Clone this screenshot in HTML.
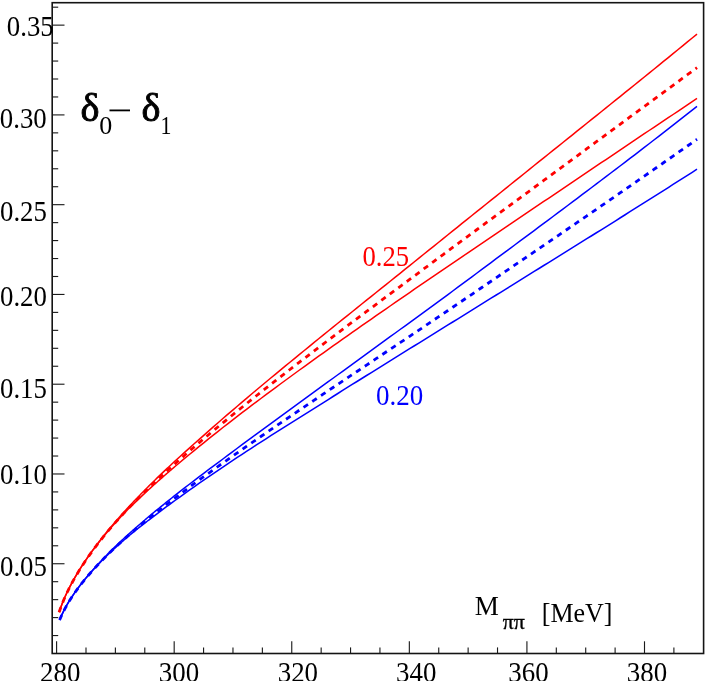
<!DOCTYPE html>
<html><head><meta charset="utf-8"><title>delta0 - delta1</title>
<style>
html,body{margin:0;padding:0;background:#fff;}
body{width:706px;height:681px;overflow:hidden;font-family:"Liberation Serif",serif;}
svg{display:block;will-change:transform;}
text{font-family:"Liberation Serif",serif;}
</style></head><body>
<svg width="706" height="681" viewBox="0 0 706 681">
<rect x="0" y="0" width="706" height="681" fill="#ffffff"/>
<g fill="none" stroke-linecap="butt" stroke-linejoin="round">
<path d="M59.10,612.30 L60.41,608.48 L61.72,604.95 L63.03,601.64 L64.34,598.52 L65.66,595.55 L66.97,592.72 L68.28,590.00 L69.59,587.38 L70.90,584.85 L72.21,582.40 L73.52,580.02 L74.83,577.71 L76.14,575.45 L77.44,573.25 L78.73,571.10 L80.02,569.00 L81.32,566.94 L82.61,564.92 L83.90,562.93 L85.20,560.98 L86.49,559.06 L87.79,557.17 L89.08,555.31 L90.37,553.48 L91.66,551.68 L92.94,549.89 L94.23,548.13 L95.51,546.40 L96.80,544.68 L98.08,542.98 L99.37,541.31 L100.65,539.65 L101.94,538.00 L103.22,536.38 L104.51,534.77 L105.79,533.17 L107.08,531.59 L108.36,530.02 L109.65,528.47 L110.94,526.93 L112.23,525.40 L113.53,523.89 L114.82,522.38 L116.11,520.89 L117.41,519.41 L118.70,517.94 L120.00,516.48 L121.29,515.02 L122.58,513.58 L123.88,512.15 L125.17,510.72 L126.48,509.30 L127.80,507.88 L129.11,506.46 L130.42,505.06 L131.73,503.66 L133.04,502.27 L134.35,500.89 L135.66,499.52 L136.97,498.15 L138.29,496.79 L139.60,495.43 L140.91,494.08 L142.22,492.74 L143.53,491.40 L144.84,490.07 L146.15,488.75 L147.46,487.43 L148.78,486.11 L150.09,484.80 L151.40,483.52 L152.71,482.23 L154.02,480.95 L155.33,479.68 L156.64,478.41 L157.95,477.15 L159.27,475.89 L160.58,474.63 L161.89,473.38 L163.20,472.13 L164.51,470.89 L165.82,469.65 L167.13,468.41 L168.44,467.18 L169.76,465.95 L171.07,464.73 L172.38,463.51 L173.69,462.29 L175.00,461.08 L179.79,456.70 L184.58,452.36 L189.37,448.07 L194.16,443.80 L198.94,439.57 L203.73,435.33 L208.52,431.09 L213.31,426.89 L218.10,422.71 L222.89,418.55 L227.68,414.42 L232.47,410.31 L237.26,406.21 L242.05,402.14 L246.83,398.08 L251.62,394.03 L256.41,390.01 L261.20,385.99 L265.99,382.00 L270.78,378.03 L275.57,374.06 L280.36,370.11 L285.15,366.16 L289.94,362.23 L294.72,358.30 L299.51,354.38 L304.30,350.47 L309.09,346.57 L313.88,342.67 L318.67,338.79 L323.46,334.90 L328.25,331.02 L333.04,327.15 L337.83,323.29 L342.61,319.42 L347.40,315.56 L352.19,311.71 L356.98,307.86 L361.77,304.01 L366.56,300.16 L371.35,296.32 L376.14,292.48 L380.93,288.64 L385.72,284.80 L390.50,280.97 L395.29,277.13 L400.08,273.30 L404.87,269.45 L409.66,265.59 L414.45,261.74 L419.24,257.88 L424.03,254.03 L428.82,250.18 L433.61,246.32 L438.39,242.47 L443.18,238.62 L447.97,234.76 L452.76,230.91 L457.55,227.05 L462.34,223.19 L467.13,219.35 L471.92,215.51 L476.71,211.67 L481.50,207.84 L486.28,204.00 L491.07,200.15 L495.86,196.31 L500.65,192.47 L505.44,188.62 L510.23,184.77 L515.02,180.92 L519.81,177.06 L524.60,173.21 L529.39,169.35 L534.17,165.49 L538.96,161.62 L543.75,157.79 L548.54,153.97 L553.33,150.14 L558.12,146.31 L562.91,142.48 L567.70,138.64 L572.49,134.80 L577.28,130.96 L582.06,127.12 L586.85,123.27 L591.64,119.42 L596.43,115.56 L601.22,111.71 L606.01,107.86 L610.80,104.01 L615.59,100.16 L620.38,96.30 L625.17,92.44 L629.95,88.58 L634.74,84.71 L639.53,80.84 L644.32,76.97 L649.11,73.09 L653.90,69.21 L658.69,65.33 L663.48,61.44 L668.27,57.55 L673.06,53.65 L677.84,49.76 L682.63,45.85 L687.42,41.95 L692.21,38.03 L697.00,34.12" stroke="#ff0000" stroke-width="1.5"/>
<path d="M59.10,612.04 L60.41,608.21 L61.72,604.68 L63.03,601.37 L64.34,598.25 L65.66,595.29 L66.97,592.46 L68.28,589.75 L69.59,587.14 L70.90,584.63 L72.21,582.20 L73.52,579.84 L74.83,577.54 L76.14,575.31 L77.44,573.13 L78.73,571.01 L80.02,568.93 L81.32,566.89 L82.61,564.90 L83.90,562.94 L85.20,561.02 L86.49,559.14 L87.79,557.28 L89.08,555.46 L90.37,553.66 L91.66,551.89 L92.94,550.15 L94.23,548.43 L95.51,546.73 L96.80,545.05 L98.08,543.40 L99.37,541.76 L100.65,540.15 L101.94,538.55 L103.22,536.97 L104.51,535.40 L105.79,533.85 L107.08,532.32 L108.36,530.80 L109.65,529.30 L110.94,527.81 L112.23,526.33 L113.53,524.87 L114.82,523.42 L116.11,521.98 L117.41,520.55 L118.70,519.13 L120.00,517.73 L121.29,516.33 L122.58,514.95 L123.88,513.57 L125.17,512.21 L126.48,510.89 L127.80,509.57 L129.11,508.26 L130.42,506.96 L131.73,505.67 L133.04,504.39 L134.35,503.12 L135.66,501.85 L136.97,500.59 L138.29,499.34 L139.60,498.09 L140.91,496.86 L142.22,495.62 L143.53,494.40 L144.84,493.18 L146.15,491.97 L147.46,490.76 L148.78,489.56 L150.09,488.37 L151.40,487.18 L152.71,485.99 L154.02,484.80 L155.33,483.63 L156.64,482.45 L157.95,481.29 L159.27,480.13 L160.58,478.97 L161.89,477.82 L163.20,476.67 L164.51,475.52 L165.82,474.39 L167.13,473.25 L168.44,472.12 L169.76,471.00 L171.07,469.87 L172.38,468.74 L173.69,467.62 L175.00,466.50 L179.79,462.45 L184.58,458.44 L189.37,454.48 L194.16,450.56 L198.94,446.68 L203.73,442.80 L208.52,438.93 L213.31,435.10 L218.10,431.30 L222.89,427.53 L227.68,423.79 L232.47,420.07 L237.26,416.38 L242.05,412.71 L246.83,409.07 L251.62,405.44 L256.41,401.84 L261.20,398.26 L265.99,394.68 L270.78,391.11 L275.57,387.56 L280.36,384.02 L285.15,380.50 L289.94,376.99 L294.72,373.49 L299.51,370.01 L304.30,366.54 L309.09,363.09 L313.88,359.64 L318.67,356.21 L323.46,352.78 L328.25,349.37 L333.04,345.96 L337.83,342.57 L342.61,339.19 L347.40,335.81 L352.19,332.44 L356.98,329.08 L361.77,325.73 L366.56,322.38 L371.35,319.04 L376.14,315.71 L380.93,312.39 L385.72,309.07 L390.50,305.75 L395.29,302.44 L400.08,299.14 L404.87,295.84 L409.66,292.54 L414.45,289.24 L419.24,285.95 L424.03,282.67 L428.82,279.39 L433.61,276.11 L438.39,272.84 L443.18,269.57 L447.97,266.30 L452.76,263.04 L457.55,259.78 L462.34,256.52 L467.13,253.26 L471.92,250.01 L476.71,246.76 L481.50,243.52 L486.28,240.27 L491.07,237.03 L495.86,233.79 L500.65,230.55 L505.44,227.32 L510.23,224.08 L515.02,220.85 L519.81,217.62 L524.60,214.39 L529.39,211.16 L534.17,207.93 L538.96,204.71 L543.75,201.48 L548.54,198.26 L553.33,195.04 L558.12,191.81 L562.91,188.58 L567.70,185.35 L572.49,182.12 L577.28,178.89 L582.06,175.66 L586.85,172.43 L591.64,169.20 L596.43,165.97 L601.22,162.74 L606.01,159.51 L610.80,156.28 L615.59,153.05 L620.38,149.82 L625.17,146.59 L629.95,143.36 L634.74,140.13 L639.53,136.90 L644.32,133.70 L649.11,130.50 L653.90,127.30 L658.69,124.10 L663.48,120.90 L668.27,117.70 L673.06,114.50 L677.84,111.30 L682.63,108.10 L687.42,104.90 L692.21,101.69 L697.00,98.49" stroke="#ff0000" stroke-width="1.5"/>
<path d="M59.10,612.32 L60.41,608.51 L61.72,604.98 L63.03,601.68 L64.34,598.57 L65.66,595.61 L66.97,592.79 L68.28,590.08 L69.59,587.47 L70.90,584.95 L72.21,582.52 L73.52,580.15 L74.83,577.85 L76.14,575.61 L77.44,573.43 L78.73,571.29 L80.02,569.20 L81.32,567.16 L82.61,565.15 L83.90,563.18 L85.20,561.25 L86.49,559.35 L87.79,557.48 L89.08,555.64 L90.37,553.82 L91.66,552.03 L92.94,550.27 L94.23,548.53 L95.51,546.81 L96.80,545.12 L98.08,543.44 L99.37,541.78 L100.65,540.14 L101.94,538.52 L103.22,536.92 L104.51,535.33 L105.79,533.76 L107.08,532.20 L108.36,530.66 L109.65,529.13 L110.94,527.61 L112.23,526.10 L113.53,524.61 L114.82,523.13 L116.11,521.66 L117.41,520.21 L118.70,518.76 L120.00,517.33 L121.29,515.90 L122.58,514.48 L123.88,513.08 L125.17,511.68 L126.48,510.30 L127.80,508.93 L129.11,507.57 L130.42,506.21 L131.73,504.86 L133.04,503.52 L134.35,502.19 L135.66,500.87 L136.97,499.55 L138.29,498.24 L139.60,496.94 L140.91,495.64 L142.22,494.35 L143.53,493.06 L144.84,491.78 L146.15,490.51 L147.46,489.24 L148.78,487.98 L150.09,486.73 L151.40,485.48 L152.71,484.23 L154.02,482.99 L155.33,481.76 L156.64,480.52 L157.95,479.30 L159.27,478.08 L160.58,476.86 L161.89,475.65 L163.20,474.44 L164.51,473.24 L165.82,472.04 L167.13,470.84 L168.44,469.65 L169.76,468.47 L171.07,467.28 L172.38,466.10 L173.69,464.92 L175.00,463.75 L179.79,459.49 L184.58,455.27 L189.37,451.10 L194.16,446.97 L198.94,442.87 L203.73,438.80 L208.52,434.77 L213.31,430.76 L218.10,426.78 L222.89,422.82 L227.68,418.89 L232.47,414.98 L237.26,411.09 L242.05,407.23 L246.83,403.38 L251.62,399.55 L256.41,395.74 L261.20,391.95 L265.99,388.18 L270.78,384.41 L275.57,380.67 L280.36,376.94 L285.15,373.22 L289.94,369.51 L294.72,365.81 L299.51,362.13 L304.30,358.46 L309.09,354.79 L313.88,351.14 L318.67,347.49 L323.46,343.85 L328.25,340.22 L333.04,336.60 L337.83,332.99 L342.61,329.38 L347.40,325.78 L352.19,322.19 L356.98,318.60 L361.77,315.02 L366.56,311.45 L371.35,307.88 L376.14,304.32 L380.93,300.76 L385.72,297.20 L390.50,293.65 L395.29,290.10 L400.08,286.56 L404.87,282.99 L409.66,279.42 L414.45,275.85 L419.24,272.29 L424.03,268.73 L428.82,265.18 L433.61,261.62 L438.39,258.07 L443.18,254.52 L447.97,250.98 L452.76,247.43 L457.55,243.89 L462.34,240.35 L467.13,236.81 L471.92,233.28 L476.71,229.75 L481.50,226.22 L486.28,222.69 L491.07,219.17 L495.86,215.65 L500.65,212.13 L505.44,208.60 L510.23,205.09 L515.02,201.57 L519.81,198.05 L524.60,194.53 L529.39,191.01 L534.17,187.50 L538.96,183.98 L543.75,180.47 L548.54,176.95 L553.33,173.44 L558.12,169.91 L562.91,166.38 L567.70,162.86 L572.49,159.33 L577.28,155.80 L582.06,152.27 L586.85,148.74 L591.64,145.21 L596.43,141.69 L601.22,138.16 L606.01,134.63 L610.80,131.10 L615.59,127.57 L620.38,124.04 L625.17,120.51 L629.95,116.98 L634.74,113.46 L639.53,109.94 L644.32,106.42 L649.11,102.90 L653.90,99.37 L658.69,95.85 L663.48,92.33 L668.27,88.81 L673.06,85.28 L677.84,81.76 L682.63,78.23 L687.42,74.70 L692.21,71.18 L697.00,67.65" stroke="#ff0000" stroke-width="2.8" stroke-dasharray="5.4 5.15"/>
<path d="M59.60,620.14 L60.91,617.04 L62.22,614.17 L63.53,611.47 L64.84,608.93 L66.16,606.51 L67.47,604.20 L68.78,601.98 L70.09,599.84 L71.40,597.77 L72.71,595.76 L74.02,593.81 L75.33,591.91 L76.65,590.06 L77.96,588.26 L79.27,586.49 L80.58,584.76 L81.89,583.06 L83.20,581.39 L84.51,579.76 L85.82,578.15 L87.14,576.56 L88.45,575.00 L89.76,573.46 L91.07,571.95 L92.38,570.45 L93.69,568.97 L95.00,567.51 L96.31,566.07 L97.63,564.64 L98.94,563.23 L100.25,561.83 L101.55,560.46 L102.82,559.12 L104.08,557.80 L105.35,556.49 L106.61,555.19 L107.88,553.90 L109.14,552.63 L110.41,551.36 L111.67,550.10 L112.94,548.85 L114.20,547.62 L115.47,546.39 L116.73,545.17 L118.00,543.96 L119.27,542.75 L120.53,541.56 L121.79,540.39 L123.05,539.22 L124.31,538.07 L125.57,536.92 L126.82,535.78 L128.08,534.64 L129.34,533.51 L130.60,532.39 L131.86,531.27 L133.12,530.16 L134.38,529.06 L135.66,527.93 L136.97,526.78 L138.29,525.64 L139.60,524.50 L140.91,523.36 L142.22,522.23 L143.53,521.11 L144.84,519.99 L146.15,518.87 L147.46,517.76 L148.78,516.65 L150.09,515.54 L151.40,514.44 L152.71,513.35 L154.02,512.25 L155.33,511.17 L156.64,510.09 L157.95,509.03 L159.27,507.96 L160.58,506.90 L161.89,505.84 L163.20,504.79 L164.51,503.74 L165.82,502.69 L167.13,501.64 L168.44,500.60 L169.76,499.55 L171.07,498.52 L172.38,497.48 L173.69,496.45 L175.00,495.41 L179.79,491.67 L184.58,487.95 L189.37,484.25 L194.16,480.58 L198.94,476.93 L203.73,473.30 L208.52,469.70 L213.31,466.11 L218.10,462.53 L222.89,458.98 L227.68,455.41 L232.47,451.83 L237.26,448.27 L242.05,444.71 L246.83,441.17 L251.62,437.64 L256.41,434.11 L261.20,430.60 L265.99,427.09 L270.78,423.59 L275.57,420.09 L280.36,416.60 L285.15,413.12 L289.94,409.64 L294.72,406.16 L299.51,402.69 L304.30,399.19 L309.09,395.70 L313.88,392.20 L318.67,388.71 L323.46,385.22 L328.25,381.73 L333.04,378.25 L337.83,374.76 L342.61,371.28 L347.40,367.79 L352.19,364.31 L356.98,360.83 L361.77,357.34 L366.56,353.86 L371.35,350.38 L376.14,346.89 L380.93,343.42 L385.72,339.94 L390.50,336.47 L395.29,332.99 L400.08,329.51 L404.87,326.03 L409.66,322.54 L414.45,319.06 L419.24,315.57 L424.03,312.08 L428.82,308.59 L433.61,305.09 L438.39,301.60 L443.18,298.07 L447.97,294.54 L452.76,290.99 L457.55,287.45 L462.34,283.90 L467.13,280.35 L471.92,276.80 L476.71,273.24 L481.50,269.68 L486.28,266.11 L491.07,262.54 L495.86,258.97 L500.65,255.40 L505.44,251.82 L510.23,248.28 L515.02,244.74 L519.81,241.20 L524.60,237.65 L529.39,234.09 L534.17,230.54 L538.96,226.97 L543.75,223.41 L548.54,219.84 L553.33,216.26 L558.12,212.68 L562.91,209.10 L567.70,205.51 L572.49,201.92 L577.28,198.32 L582.06,194.72 L586.85,191.12 L591.64,187.50 L596.43,183.89 L601.22,180.27 L606.01,176.64 L610.80,173.01 L615.59,169.38 L620.38,165.74 L625.17,162.10 L629.95,158.45 L634.74,154.79 L639.53,151.14 L644.32,147.44 L649.11,143.74 L653.90,140.03 L658.69,136.32 L663.48,132.60 L668.27,128.88 L673.06,125.15 L677.84,121.42 L682.63,117.68 L687.42,113.93 L692.21,110.19 L697.00,106.43" stroke="#0000ff" stroke-width="1.5"/>
<path d="M59.60,619.87 L60.91,616.75 L62.22,613.88 L63.53,611.19 L64.84,608.65 L66.16,606.23 L67.47,603.93 L68.78,601.72 L70.09,599.60 L71.40,597.55 L72.71,595.56 L74.02,593.63 L75.33,591.76 L76.65,589.94 L77.96,588.16 L79.27,586.42 L80.58,584.72 L81.89,583.05 L83.20,581.42 L84.51,579.82 L85.82,578.24 L87.14,576.70 L88.45,575.17 L89.76,573.68 L91.07,572.20 L92.38,570.75 L93.69,569.31 L95.00,567.90 L96.31,566.50 L97.63,565.12 L98.94,563.76 L100.25,562.41 L101.55,561.09 L102.82,559.80 L104.08,558.53 L105.35,557.27 L106.61,556.03 L107.88,554.80 L109.14,553.58 L110.41,552.37 L111.67,551.17 L112.94,549.98 L114.20,548.80 L115.47,547.63 L116.73,546.47 L118.00,545.32 L119.27,544.18 L120.53,543.05 L121.79,541.94 L123.05,540.85 L124.31,539.76 L125.57,538.68 L126.82,537.60 L128.08,536.53 L129.34,535.47 L130.60,534.42 L131.86,533.37 L133.12,532.33 L134.38,531.30 L135.66,530.26 L136.97,529.21 L138.29,528.17 L139.60,527.13 L140.91,526.10 L142.22,525.08 L143.53,524.06 L144.84,523.05 L146.15,522.04 L147.46,521.03 L148.78,520.03 L150.09,519.03 L151.40,518.04 L152.71,517.06 L154.02,516.07 L155.33,515.09 L156.64,514.09 L157.95,513.10 L159.27,512.11 L160.58,511.12 L161.89,510.14 L163.20,509.16 L164.51,508.19 L165.82,507.22 L167.13,506.25 L168.44,505.29 L169.76,504.32 L171.07,503.37 L172.38,502.41 L173.69,501.46 L175.00,500.51 L179.79,497.07 L184.58,493.62 L189.37,490.20 L194.16,486.81 L198.94,483.45 L203.73,480.12 L208.52,476.81 L213.31,473.53 L218.10,470.27 L222.89,467.02 L227.68,463.80 L232.47,460.60 L237.26,457.42 L242.05,454.26 L246.83,451.13 L251.62,448.02 L256.41,444.93 L261.20,441.84 L265.99,438.77 L270.78,435.71 L275.57,432.66 L280.36,429.62 L285.15,426.59 L289.94,423.57 L294.72,420.55 L299.51,417.55 L304.30,414.55 L309.09,411.56 L313.88,408.57 L318.67,405.56 L323.46,402.53 L328.25,399.51 L333.04,396.50 L337.83,393.49 L342.61,390.48 L347.40,387.48 L352.19,384.48 L356.98,381.49 L361.77,378.49 L366.56,375.51 L371.35,372.52 L376.14,369.54 L380.93,366.56 L385.72,363.58 L390.50,360.60 L395.29,357.62 L400.08,354.65 L404.87,351.68 L409.66,348.71 L414.45,345.74 L419.24,342.77 L424.03,339.80 L428.82,336.83 L433.61,333.87 L438.39,330.90 L443.18,327.93 L447.97,324.96 L452.76,321.99 L457.55,319.02 L462.34,316.05 L467.13,313.08 L471.92,310.11 L476.71,307.14 L481.50,304.17 L486.28,301.19 L491.07,298.22 L495.86,295.26 L500.65,292.29 L505.44,289.32 L510.23,286.35 L515.02,283.38 L519.81,280.41 L524.60,277.43 L529.39,274.46 L534.17,271.48 L538.96,268.50 L543.75,265.51 L548.54,262.53 L553.33,259.56 L558.12,256.59 L562.91,253.62 L567.70,250.65 L572.49,247.67 L577.28,244.70 L582.06,241.72 L586.85,238.73 L591.64,235.75 L596.43,232.76 L601.22,229.77 L606.01,226.77 L610.80,223.77 L615.59,220.77 L620.38,217.76 L625.17,214.76 L629.95,211.74 L634.74,208.73 L639.53,205.71 L644.32,202.69 L649.11,199.66 L653.90,196.63 L658.69,193.60 L663.48,190.56 L668.27,187.52 L673.06,184.48 L677.84,181.43 L682.63,178.38 L687.42,175.32 L692.21,172.26 L697.00,169.20" stroke="#0000ff" stroke-width="1.5"/>
<path d="M59.60,620.08 L60.91,616.98 L62.22,614.11 L63.53,611.42 L64.84,608.88 L66.16,606.47 L67.47,604.17 L68.78,601.96 L70.09,599.83 L71.40,597.77 L72.71,595.78 L74.02,593.84 L75.33,591.96 L76.65,590.12 L77.96,588.33 L79.27,586.58 L80.58,584.86 L81.89,583.19 L83.20,581.54 L84.51,579.92 L85.82,578.33 L87.14,576.76 L88.45,575.22 L89.76,573.71 L91.07,572.21 L92.38,570.74 L93.69,569.28 L95.00,567.85 L96.31,566.43 L97.63,565.03 L98.94,563.64 L100.25,562.27 L101.55,560.92 L102.82,559.61 L104.08,558.31 L105.35,557.03 L106.61,555.76 L107.88,554.50 L109.14,553.25 L110.41,552.01 L111.67,550.78 L112.94,549.56 L114.20,548.36 L115.47,547.16 L116.73,545.97 L118.00,544.79 L119.27,543.61 L120.53,542.45 L121.79,541.31 L123.05,540.18 L124.31,539.06 L125.57,537.94 L126.82,536.84 L128.08,535.73 L129.34,534.64 L130.60,533.55 L131.86,532.47 L133.12,531.39 L134.38,530.32 L135.66,529.23 L136.97,528.13 L138.29,527.04 L139.60,525.94 L140.91,524.86 L142.22,523.78 L143.53,522.70 L144.84,521.63 L146.15,520.56 L147.46,519.50 L148.78,518.44 L150.09,517.39 L151.40,516.34 L152.71,515.29 L154.02,514.25 L155.33,513.21 L156.64,512.18 L157.95,511.15 L159.27,510.12 L160.58,509.09 L161.89,508.07 L163.20,507.05 L164.51,506.04 L165.82,505.03 L167.13,504.02 L168.44,503.01 L169.76,502.01 L171.07,501.01 L172.38,500.02 L173.69,499.02 L175.00,498.03 L179.79,494.43 L184.58,490.84 L189.37,487.28 L194.16,483.74 L198.94,480.23 L203.73,476.74 L208.52,473.28 L213.31,469.84 L218.10,466.41 L222.89,463.01 L227.68,459.62 L232.47,456.25 L237.26,452.89 L242.05,449.54 L246.83,446.20 L251.62,442.87 L256.41,439.56 L261.20,436.25 L265.99,432.95 L270.78,429.67 L275.57,426.39 L280.36,423.12 L285.15,419.85 L289.94,416.60 L294.72,413.35 L299.51,410.11 L304.30,406.87 L309.09,403.64 L313.88,400.41 L318.67,397.19 L323.46,393.96 L328.25,390.74 L333.04,387.52 L337.83,384.31 L342.61,381.10 L347.40,377.89 L352.19,374.68 L356.98,371.48 L361.77,368.28 L366.56,365.08 L371.35,361.88 L376.14,358.68 L380.93,355.48 L385.72,352.29 L390.50,349.09 L395.29,345.90 L400.08,342.70 L404.87,339.51 L409.66,336.31 L414.45,333.09 L419.24,329.86 L424.03,326.63 L428.82,323.41 L433.61,320.18 L438.39,316.95 L443.18,313.72 L447.97,310.49 L452.76,307.25 L457.55,304.02 L462.34,300.78 L467.13,297.55 L471.92,294.30 L476.71,291.04 L481.50,287.77 L486.28,284.51 L491.07,281.24 L495.86,277.97 L500.65,274.70 L505.44,271.42 L510.23,268.17 L515.02,264.92 L519.81,261.67 L524.60,258.41 L529.39,255.15 L534.17,251.89 L538.96,248.62 L543.75,245.36 L548.54,242.09 L553.33,238.81 L558.12,235.54 L562.91,232.26 L567.70,228.98 L572.49,225.69 L577.28,222.41 L582.06,219.11 L586.85,215.82 L591.64,212.53 L596.43,209.23 L601.22,205.93 L606.01,202.63 L610.80,199.33 L615.59,196.02 L620.38,192.71 L625.17,189.40 L629.95,186.08 L634.74,182.76 L639.53,179.44 L644.32,176.11 L649.11,172.78 L653.90,169.44 L658.69,166.10 L663.48,162.76 L668.27,159.42 L673.06,156.07 L677.84,152.71 L682.63,149.36 L687.42,146.00 L692.21,142.63 L697.00,139.26" stroke="#0000ff" stroke-width="2.8" stroke-dasharray="5.4 5.15"/>
</g>
<g stroke="#1a1a1a" stroke-width="1.12" fill="none">
<line x1="52.20" y1="635.55" x2="58.20" y2="635.55"/>
<line x1="52.20" y1="617.59" x2="58.20" y2="617.59"/>
<line x1="52.20" y1="599.64" x2="58.20" y2="599.64"/>
<line x1="52.20" y1="581.69" x2="58.20" y2="581.69"/>
<line x1="52.20" y1="563.74" x2="64.50" y2="563.74"/>
<line x1="52.20" y1="545.78" x2="58.20" y2="545.78"/>
<line x1="52.20" y1="527.83" x2="58.20" y2="527.83"/>
<line x1="52.20" y1="509.88" x2="58.20" y2="509.88"/>
<line x1="52.20" y1="491.92" x2="58.20" y2="491.92"/>
<line x1="52.20" y1="473.97" x2="64.50" y2="473.97"/>
<line x1="52.20" y1="456.02" x2="58.20" y2="456.02"/>
<line x1="52.20" y1="438.06" x2="58.20" y2="438.06"/>
<line x1="52.20" y1="420.11" x2="58.20" y2="420.11"/>
<line x1="52.20" y1="402.16" x2="58.20" y2="402.16"/>
<line x1="52.20" y1="384.21" x2="64.50" y2="384.21"/>
<line x1="52.20" y1="366.25" x2="58.20" y2="366.25"/>
<line x1="52.20" y1="348.30" x2="58.20" y2="348.30"/>
<line x1="52.20" y1="330.35" x2="58.20" y2="330.35"/>
<line x1="52.20" y1="312.39" x2="58.20" y2="312.39"/>
<line x1="52.20" y1="294.44" x2="64.50" y2="294.44"/>
<line x1="52.20" y1="276.49" x2="58.20" y2="276.49"/>
<line x1="52.20" y1="258.53" x2="58.20" y2="258.53"/>
<line x1="52.20" y1="240.58" x2="58.20" y2="240.58"/>
<line x1="52.20" y1="222.63" x2="58.20" y2="222.63"/>
<line x1="52.20" y1="204.68" x2="64.50" y2="204.68"/>
<line x1="52.20" y1="186.72" x2="58.20" y2="186.72"/>
<line x1="52.20" y1="168.77" x2="58.20" y2="168.77"/>
<line x1="52.20" y1="150.82" x2="58.20" y2="150.82"/>
<line x1="52.20" y1="132.86" x2="58.20" y2="132.86"/>
<line x1="52.20" y1="114.91" x2="64.50" y2="114.91"/>
<line x1="52.20" y1="96.96" x2="58.20" y2="96.96"/>
<line x1="52.20" y1="79.00" x2="58.20" y2="79.00"/>
<line x1="52.20" y1="61.05" x2="58.20" y2="61.05"/>
<line x1="52.20" y1="43.10" x2="58.20" y2="43.10"/>
<line x1="52.20" y1="25.14" x2="64.50" y2="25.14"/>
<line x1="52.20" y1="7.19" x2="58.20" y2="7.19"/>
<line x1="56.60" y1="653.50" x2="56.60" y2="641.30"/>
<line x1="86.00" y1="653.50" x2="86.00" y2="647.40"/>
<line x1="115.39" y1="653.50" x2="115.39" y2="647.40"/>
<line x1="144.78" y1="653.50" x2="144.78" y2="647.40"/>
<line x1="174.18" y1="653.50" x2="174.18" y2="641.30"/>
<line x1="203.57" y1="653.50" x2="203.57" y2="647.40"/>
<line x1="232.97" y1="653.50" x2="232.97" y2="647.40"/>
<line x1="262.37" y1="653.50" x2="262.37" y2="647.40"/>
<line x1="291.76" y1="653.50" x2="291.76" y2="641.30"/>
<line x1="321.16" y1="653.50" x2="321.16" y2="647.40"/>
<line x1="350.55" y1="653.50" x2="350.55" y2="647.40"/>
<line x1="379.94" y1="653.50" x2="379.94" y2="647.40"/>
<line x1="409.34" y1="653.50" x2="409.34" y2="641.30"/>
<line x1="438.74" y1="653.50" x2="438.74" y2="647.40"/>
<line x1="468.13" y1="653.50" x2="468.13" y2="647.40"/>
<line x1="497.52" y1="653.50" x2="497.52" y2="647.40"/>
<line x1="526.92" y1="653.50" x2="526.92" y2="641.30"/>
<line x1="556.31" y1="653.50" x2="556.31" y2="647.40"/>
<line x1="585.71" y1="653.50" x2="585.71" y2="647.40"/>
<line x1="615.11" y1="653.50" x2="615.11" y2="647.40"/>
<line x1="644.50" y1="653.50" x2="644.50" y2="641.30"/>
<line x1="673.89" y1="653.50" x2="673.89" y2="647.40"/>
</g>
<rect x="52.2" y="2.7" width="651.40" height="650.80" fill="none" stroke="#141414" stroke-width="1.6"/>
<text transform="translate(0.01,575.80) scale(0.985,1.070)" font-size="27.20px" fill="#000">0.05</text>
<text transform="translate(0.01,484.30) scale(0.985,1.070)" font-size="27.20px" fill="#000">0.10</text>
<text transform="translate(0.01,398.00) scale(0.985,1.070)" font-size="27.20px" fill="#000">0.15</text>
<text transform="translate(0.01,305.90) scale(0.985,1.070)" font-size="27.20px" fill="#000">0.20</text>
<text transform="translate(0.01,220.50) scale(0.985,1.070)" font-size="27.20px" fill="#000">0.25</text>
<text transform="translate(-0.19,128.30) scale(0.985,1.070)" font-size="27.20px" fill="#000">0.30</text>
<text transform="translate(6.81,36.00) scale(0.985,1.070)" font-size="27.20px" fill="#000">0.35</text>
<text transform="translate(40.00,682.30) scale(1.000,1.070)" font-size="26.90px" fill="#000">280</text>
<text transform="translate(158.80,682.30) scale(1.000,1.070)" font-size="26.90px" fill="#000">300</text>
<text transform="translate(277.70,682.30) scale(1.000,1.070)" font-size="26.90px" fill="#000">320</text>
<text transform="translate(396.10,682.30) scale(1.000,1.070)" font-size="26.90px" fill="#000">340</text>
<text transform="translate(508.30,682.30) scale(1.000,1.070)" font-size="26.90px" fill="#000">360</text>
<text transform="translate(626.80,682.30) scale(1.000,1.070)" font-size="26.90px" fill="#000">380</text>
<text transform="translate(362.41,266.30) scale(0.995,1.070)" font-size="26.80px" fill="#ff0000">0.25</text>
<text transform="translate(375.90,405.10) scale(1.000,1.060)" font-size="27.00px" fill="#0000ff">0.20</text>
<text transform="translate(80.61,121.00) scale(1.000,1.000)" font-size="40.30px" fill="#000" stroke="#000" stroke-width="0.9">δ</text>
<text transform="translate(99.34,134.20) scale(1.000,1.000)" font-size="26.00px" fill="#000">0</text>
<rect x="109.5" y="109.5" width="20.5" height="1.8" fill="#000"/>
<text transform="translate(141.41,121.00) scale(1.000,1.000)" font-size="40.30px" fill="#000" stroke="#000" stroke-width="0.9">δ</text>
<text transform="translate(160.38,134.00) scale(0.840,1.000)" font-size="26.00px" fill="#000">1</text>
<text transform="translate(474.75,614.80) scale(1.020,1.000)" font-size="26.60px" fill="#000">M</text>
<text transform="translate(502.69,628.70) scale(1.040,1.000)" font-size="21.00px" fill="#000" stroke="#000" stroke-width="0.35">ππ</text>
<text transform="translate(541.77,621.60) scale(1.000,1.045)" font-size="26.00px" fill="#000">[MeV]</text>
</svg>
</body></html>
